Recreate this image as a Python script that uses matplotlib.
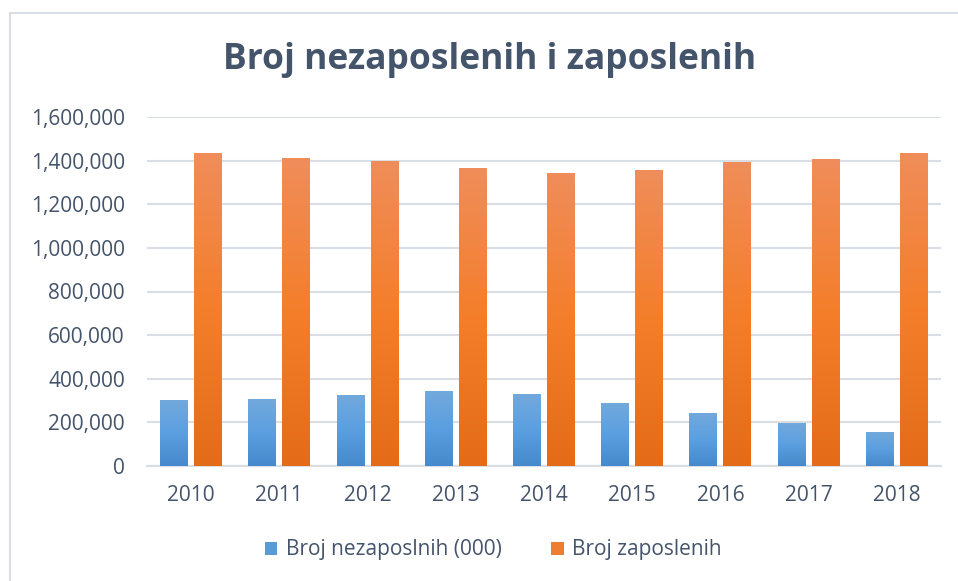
import matplotlib
matplotlib.use("Agg")
import matplotlib.pyplot as plt
import matplotlib.patches as mpatches
from matplotlib.colors import LinearSegmentedColormap
from matplotlib.ticker import FuncFormatter
import numpy as np

years = ["2010", "2011", "2012", "2013", "2014", "2015", "2016", "2017", "2018"]
nezaposleni = [302500, 307000, 325600, 344000, 330000, 288700, 242700, 196600, 155000]
zaposleni = [1435000, 1412000, 1399000, 1366000, 1343000, 1357000, 1394000, 1408000, 1435000]

TEXT = "#44546A"
GRID = "#D9DEE4"

plt.rcParams["font.family"] = ["Open Sans", "DejaVu Sans"]

fig = plt.figure(figsize=(9.58, 5.81), dpi=100)
ax = fig.add_axes([147 / 958, 1 - 466 / 581, 794 / 958, 349 / 581])

# chart frame (left/top edges visible in the screenshot)
fig.patches.append(mpatches.Rectangle((10 / 958, -0.1), 1.2, 1 - 13 / 581 + 0.1,
                                      transform=fig.transFigure, fill=False,
                                      edgecolor=GRID, linewidth=1.5))

blue_cmap = LinearSegmentedColormap.from_list("b", ["#4689CC", "#5B9FE0", "#72A9DC"])
orange_cmap = LinearSegmentedColormap.from_list("o", ["#E46C18", "#F47E2A", "#F08D5A"])

x = np.arange(len(years))
w = 0.317
off = 0.193


def gradient_bars(xs, vals, cmap):
    bars = ax.bar(xs, vals, width=w, color="none", edgecolor="none", zorder=3)
    grad = np.linspace(0, 1, 256).reshape(-1, 1)
    for b in bars:
        x0, y0 = b.get_x(), b.get_y()
        im = ax.imshow(grad, cmap=cmap, aspect="auto", origin="lower",
                       extent=(x0, x0 + b.get_width(), y0, y0 + b.get_height()),
                       zorder=3)
        im.set_clip_path(b)
    return bars


gradient_bars(x - off, nezaposleni, blue_cmap)
gradient_bars(x + off, zaposleni, orange_cmap)

ax.set_xlim(-0.5, len(years) - 0.5)
ax.set_ylim(0, 1600000)
ax.set_yticks(np.arange(0, 1600001, 200000))
ax.yaxis.set_major_formatter(FuncFormatter(lambda v, p: f"{v:,.0f}"))
ax.set_xticks(x)
ax.set_xticklabels(years)
ax.grid(axis="y", color=GRID, linewidth=1.5, zorder=0)
for s in ["top", "right", "left"]:
    ax.spines[s].set_visible(False)
ax.spines["bottom"].set_color(GRID)
ax.spines["bottom"].set_linewidth(1.5)
ax.tick_params(length=0, labelsize=15, labelcolor=TEXT)
ax.tick_params(axis="y", pad=16)
ax.tick_params(axis="x", pad=14)

fig.text(0.511, 1 - 60 / 581, "Broj nezaposlenih i zaposlenih", ha="center",
         va="center", fontsize=25.5, fontweight="bold", color=TEXT)

handles = [mpatches.Patch(facecolor="#5B9BD5", label="Broj nezaposlnih (000)"),
           mpatches.Patch(facecolor="#ED7D31", label="Broj zaposlenih")]
fig.legend(handles=handles, loc="center", bbox_to_anchor=(0.515, 1 - 550 / 581),
           ncol=2, frameon=False, fontsize=15, labelcolor=TEXT,
           handlelength=0.6, handleheight=0.6, columnspacing=2.4, handletextpad=0.4)

fig.savefig("out.png", dpi=100)
